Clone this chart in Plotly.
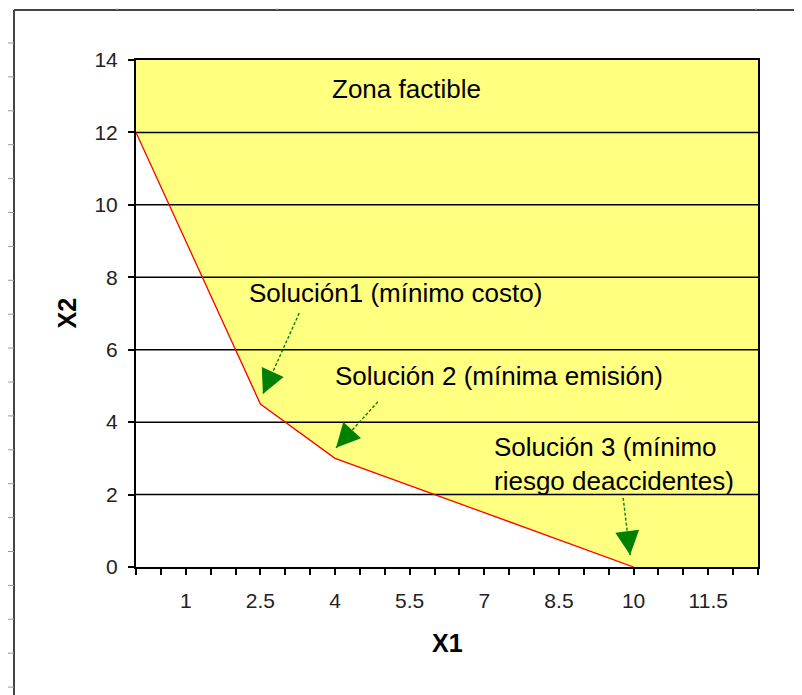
import numpy as np
import plotly.graph_objects as go

# ---- data ----
boundary_x1 = [0, 2.5, 4, 10]
boundary_x2 = [12, 4.5, 3, 0]
x_range = [0, 12.5]
y_range = [0, 14]
x_tick_labels = ["1", "2.5", "4", "5.5", "7", "8.5", "10", "11.5"]
x_minor_step = 0.5
y_tick_values = [0, 2, 4, 6, 8, 10, 12, 14]

zone_label = "Zona factible"
solution_labels = ["Solución1 (mínimo costo)",
                   "Solución 2 (mínima emisión)",
                   "Solución 3 (mínimo<br>riesgo deaccidentes)"]
# arrow (start, tip) in data units
arrow_starts = [(3.28, 7.01), (4.86, 4.56), (9.79, 1.91)]
arrow_tips = [(2.55, 4.78), (4.02, 3.29), (9.93, 0.33)]

W, H = 802, 695
OFF = 8  # default page body margin
# desired plot area in page pixels
PL, PR, PT, PB = 136, 758, 60, 567
ML, MT = PL - OFF, PT - OFF
MR = W - (PR - OFF)
MB = H - (PB - OFF)
pw, ph = PR - PL, PB - PT
sx = pw / (x_range[1] - x_range[0])
sy = ph / (y_range[1] - y_range[0])

YELLOW = "#FFFF80"
GREEN = "#008000"
FONT = "Liberation Sans, Arial, sans-serif"

fig = go.Figure()

# feasible zone polygon (above boundary)
poly_x = boundary_x1 + [x_range[1], x_range[1], x_range[0]]
poly_y = boundary_x2 + [y_range[0], y_range[1], y_range[1]]
fig.add_trace(go.Scatter(x=poly_x, y=poly_y, fill="toself", fillcolor=YELLOW,
                         mode="lines", line=dict(width=0), hoverinfo="skip",
                         showlegend=False))

# horizontal gridlines on top of fill
gx, gy = [], []
for v in y_tick_values[1:-1]:
    gx += [x_range[0], x_range[1], None]
    gy += [v, v, None]
fig.add_trace(go.Scatter(x=gx, y=gy, mode="lines",
                         line=dict(color="black", width=1.5),
                         hoverinfo="skip", showlegend=False))

# red boundary
fig.add_trace(go.Scatter(x=boundary_x1, y=boundary_x2, mode="lines",
                         line=dict(color="#FF0000", width=1.3),
                         showlegend=False))

# x ticks
tickvals = list(np.arange(x_range[0], x_range[1] + 1e-9, x_minor_step))
ticktext = [f"{v:g}" if f"{v:g}" in x_tick_labels else "" for v in tickvals]

fig.update_xaxes(range=x_range, tickvals=tickvals, ticktext=ticktext,
                 ticks="outside", ticklen=6, tickwidth=1.5, tickcolor="black",
                 showline=True, linecolor="black", linewidth=2, mirror=True,
                 showgrid=False, zeroline=False, ticklabelstandoff=8,
                 tickfont=dict(family=FONT, size=21, color="#222"))
fig.update_yaxes(range=y_range, tickvals=y_tick_values,
                 ticks="outside", ticklen=6, tickwidth=1.5, tickcolor="black",
                 showline=True, linecolor="black", linewidth=2, mirror=True,
                 showgrid=False, zeroline=False, ticklabelstandoff=6,
                 tickfont=dict(family=FONT, size=21, color="#222"))


def px(p):
    return (p - PL) / pw


def py(q):
    return (PB - q) / ph


annotations = []
# axis titles
annotations.append(dict(text="<b>X2</b>", xref="paper", yref="paper",
                        x=px(66), y=0.5, textangle=-90,
                        showarrow=False, font=dict(family=FONT, size=25, color="black"),
                        xanchor="center", yanchor="middle"))
annotations.append(dict(text="<b>X1</b>", xref="paper", yref="paper",
                        x=0.5, y=py(643), showarrow=False,
                        font=dict(family=FONT, size=25, color="black"),
                        xanchor="center", yanchor="middle"))
# texts
annotations.append(dict(text=zone_label, x=5.43, y=13.2, showarrow=False,
                        xanchor="center", yanchor="middle",
                        font=dict(family=FONT, size=26, color="black")))
text_pos = [(2.23, 7.57), (3.96, 5.27), (7.15, 2.84)]
for t, (tx, ty) in zip(solution_labels, text_pos):
    annotations.append(dict(text=t, x=tx, y=ty, showarrow=False, align="left",
                            xanchor="left", yanchor="middle",
                            font=dict(family=FONT, size=26, color="black")))

shapes = []
for (x0, y0), (x1, y1) in zip(arrow_starts, arrow_tips):
    shapes.append(dict(type="line", xref="x", yref="y", x0=x0, y0=y0, x1=x1, y1=y1,
                       line=dict(color=GREEN, width=1.4, dash="3px,2px")))
    dxp, dyp = (x0 - x1) * sx, -(y0 - y1) * sy
    n = (dxp ** 2 + dyp ** 2) ** 0.5
    annotations.append(dict(text="", x=x1, y=y1, ax=dxp / n * 12, ay=dyp / n * 12,
                            showarrow=True, arrowhead=2, arrowsize=2.4,
                            arrowwidth=2, arrowcolor=GREEN))

# outer chart frame (page pixels -> paper)
FR = "#444"
shapes.append(dict(type="line", xref="paper", yref="paper", x0=px(14), y0=py(10),
                   x1=px(W + 10), y1=py(10), line=dict(color=FR, width=2)))
shapes.append(dict(type="line", xref="paper", yref="paper", x0=px(14), y0=py(10),
                   x1=px(14), y1=py(H + 10), line=dict(color=FR, width=2)))
for k in range(20):
    q = 43 + 33.9 * k
    shapes.append(dict(type="line", xref="paper", yref="paper", x0=px(8), y0=py(q),
                       x1=px(14), y1=py(q), line=dict(color="#999", width=1)))
for p in [117, 277, 756]:
    shapes.append(dict(type="line", xref="paper", yref="paper", x0=px(p), y0=py(8),
                       x1=px(p), y1=py(10), line=dict(color="#bbb", width=1)))

fig.update_layout(width=W, height=H, margin=dict(l=ML, r=MR, t=MT, b=MB),
                  paper_bgcolor="white", plot_bgcolor="white",
                  annotations=annotations, shapes=shapes, showlegend=False)

fig.write_html("out.html")
